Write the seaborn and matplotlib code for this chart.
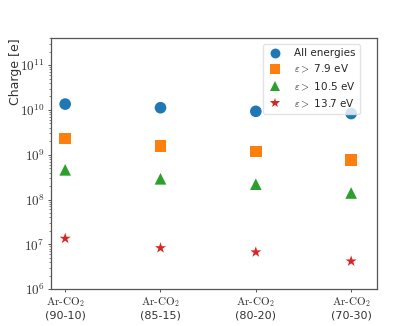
import numpy as np
import pandas as pd
import seaborn as sns
import matplotlib.pyplot as plt

# gas mixtures and total charge per energy threshold
mixtures = ['(90-10)', '(85-15)', '(80-20)', '(70-30)']
all_energies = [1.35e10, 1.12e10, 9.3e9, 8.3e9]
above_7_9 = [2.3e9, 1.55e9, 1.18e9, 7.6e8]
above_10_5 = [4.6e8, 2.9e8, 2.2e8, 1.4e8]
above_13_7 = [1.35e7, 8.3e6, 6.7e6, 4.2e6]
decades = [6, 7, 8, 9, 10, 11]

labels = ['All energies', r'$\varepsilon >$ 7.9 eV', r'$\varepsilon >$ 10.5 eV', r'$\varepsilon >$ 13.7 eV']
series = [all_energies, above_7_9, above_10_5, above_13_7]

rows = []
for lab, vals in zip(labels, series):
    for i, v in enumerate(vals):
        rows.append({'x': i, 'charge': v, 'series': lab})
df = pd.DataFrame(rows)

sns.set_style('ticks')
plt.rcParams['mathtext.fontset'] = 'cm'
plt.rcParams['axes.edgecolor'] = '#555555'
plt.rcParams['axes.linewidth'] = 0.9
plt.rcParams['xtick.color'] = '#555555'
plt.rcParams['ytick.color'] = '#555555'
plt.rcParams['xtick.labelcolor'] = '#333333'
plt.rcParams['ytick.labelcolor'] = '#333333'

fig, ax = plt.subplots(figsize=(4.07, 3.26), dpi=100)
fig.subplots_adjust(left=0.125, right=0.926, top=0.883, bottom=0.113)

sns.scatterplot(data=df, x='x', y='charge', hue='series', style='series',
                markers=['o', 's', '^', '*'], s=70, linewidth=0,
                palette=['#1f77b4', '#ff7f0e', '#2ca02c', '#d62728'], ax=ax)

ax.set_yscale('log')
ax.set_ylim(1e6, 4e11)
ax.set_yticks([10.0 ** d for d in decades])
ax.set_yticklabels([r'$10^{%d}$' % d for d in decades])
ax.set_xlim(-0.15, 3.27)
ax.set_xticks(range(4))
ax.set_xticklabels([r'$\mathrm{Ar}\text{-}\mathrm{CO}_2$' + '\n' + m for m in mixtures], fontsize=8)
ax.tick_params(axis='both', which='major', length=2.5, width=0.7, pad=2, labelsize=9.5)
ax.tick_params(axis='x', labelsize=8)
ax.tick_params(axis='y', which='minor', length=1.5, width=0.5)
ax.set_xlabel('')
ax.set_ylabel('Charge [e]', fontsize=9, color='#333333', loc='top')
ax.yaxis.set_label_coords(-0.09, 1.0)

leg = ax.legend(loc='upper right', bbox_to_anchor=(0.948, 0.976), borderaxespad=0,
                fontsize=7.5, frameon=True, handletextpad=1.0, borderpad=0.4,
                labelspacing=0.48, markerscale=0.85, handlelength=1.6)
leg.get_frame().set_edgecolor('#dddddd')

fig.savefig('out.png', dpi=100)
